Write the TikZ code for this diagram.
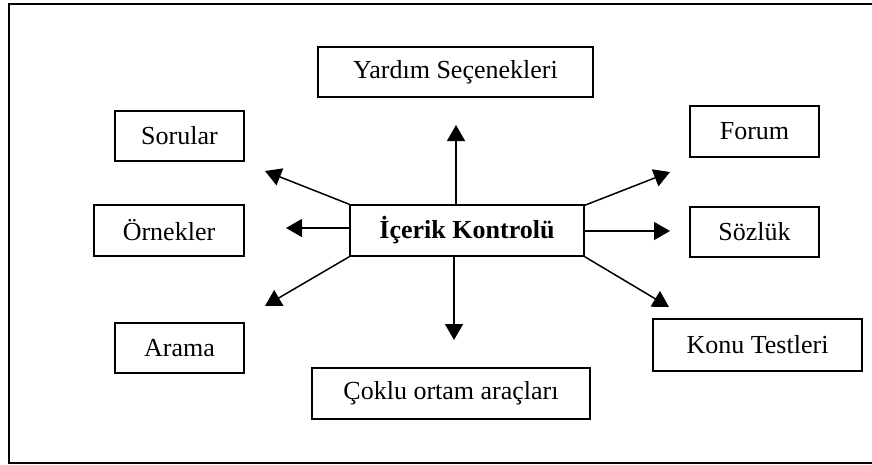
\documentclass[tikz,border=0pt]{standalone}
\usepackage{fontspec}
\setmainfont{Liberation Serif}
\usetikzlibrary{arrows.meta}
\begin{document}
\begin{tikzpicture}[x=1pt,y=-1pt,
  box/.style={draw,line width=1.4pt,inner sep=0pt,font=\fontsize{26}{30}\selectfont},
  conn/.style={line width=1.5pt,-{Triangle[length=16pt,width=18pt]}}]
\useasboundingbox (0,0) rectangle (872,464);
\draw[line width=2pt] (876,4) -- (9,4) -- (9,463) -- (876,463);
% center
\node[box,minimum width=234pt,minimum height=51pt,font=\fontsize{26}{30}\selectfont\bfseries] (c) at (467,230.5) {İçerik Kontrolü};
% outer boxes
\node[box,minimum width=275pt,minimum height=50pt] (yard) at (455.5,72) {Yardım Seçenekleri};
\node[box,minimum width=129pt,minimum height=50pt] (sor) at (179.5,136) {Sorular};
\node[box,minimum width=150pt,minimum height=51pt] (orn) at (169,230.5) {Örnekler};
\node[box,minimum width=129pt,minimum height=50pt] (ara) at (179.5,348) {Arama};
\node[box,minimum width=278pt,minimum height=51pt] (cok) at (451,393.5) {Çoklu ortam araçları};
\node[box,minimum width=129pt,minimum height=51pt] (for) at (754.5,131.5) {Forum};
\node[box,minimum width=129pt,minimum height=50pt] (soz) at (754.5,232) {Sözlük};
\node[box,minimum width=209pt,minimum height=52pt] (kon) at (757.5,345) {Konu Testleri};
% arrow tips
\coordinate (tu) at (456,125);
\coordinate (td) at (454,340);
\coordinate (tlu) at (265,171);
\coordinate (tl) at (286,228);
\coordinate (tld) at (265,306);
\coordinate (tru) at (670,172);
\coordinate (tr) at (670,231);
\coordinate (trd) at (669,307);
% connectors
\draw[conn] ([xshift=-11pt]c.north) -- (tu);
\draw[conn] ([xshift=-13pt]c.south) -- (td);
\draw[conn] (c.north west) -- (tlu);
\draw[conn] ([yshift=2.5pt]c.west) -- (tl);
\draw[conn] (c.south west) -- (tld);
\draw[conn] ([yshift=-1pt]c.north east) -- (tru);
\draw[conn] ([yshift=-0.5pt]c.east) -- (tr);
\draw[conn] (c.south east) -- (trd);
\end{tikzpicture}
\end{document}
